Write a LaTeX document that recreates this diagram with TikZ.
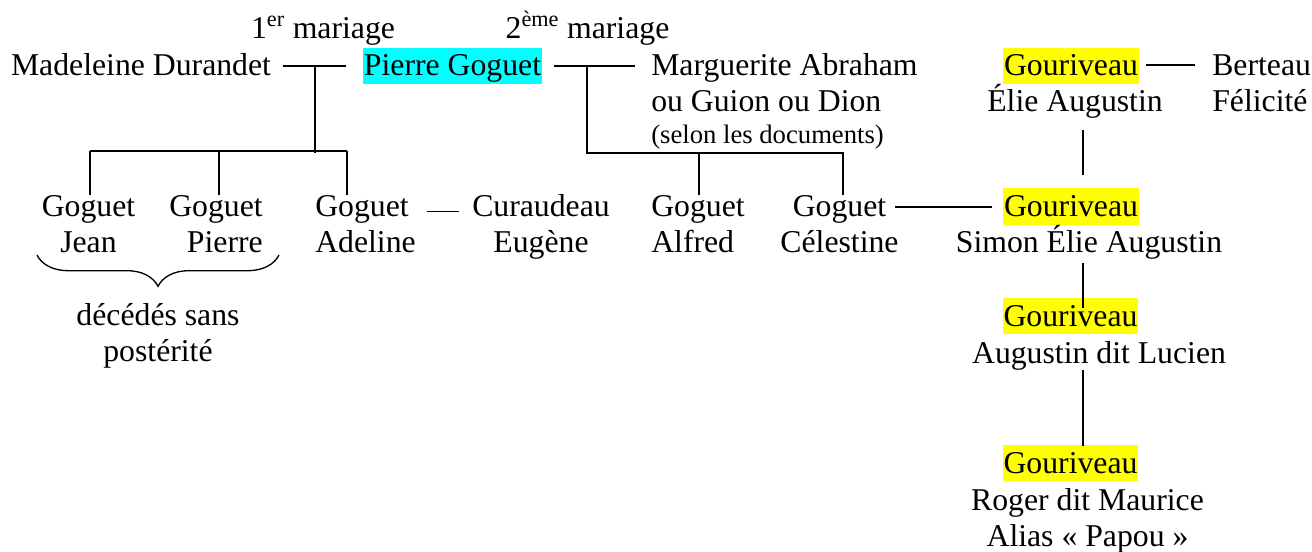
\documentclass[tikz,border=0pt]{standalone}
\usepackage{fontspec}
\setmainfont{Liberation Serif}
\usetikzlibrary{calc,decorations.pathreplacing}

\definecolor{cyanvif}{RGB}{0,255,255}
\definecolor{jaunevif}{RGB}{255,255,0}

\tikzset{
  txt/.style={font=\fontsize{23.8}{27}\selectfont, inner sep=0pt, anchor=base},
  surligne/.style={txt, fill=#1, inner xsep=0.7pt, text height=21.2pt, text depth=6.1pt},
  trait/.style={line width=1.4pt},
}

\begin{document}
\begin{tikzpicture}[x=0.75pt,y=0.75pt,yscale=-1]
    \useasboundingbox (0,0) rectangle (1312,552);

    % Text Node : mariages
    \node[txt] (m1) at (323,39) {1\textsuperscript{er} mariage};
    \node[txt] (m2) at (587.5,39) {2\textsuperscript{ème} mariage};

    % Text Node : parents (multi-line nodes sit on their last baseline)
    \node[txt] (mad) at (141,76) {Madeleine Durandet};
    \node[surligne=cyanvif] (pierre) at (452.5,76) {Pierre Goguet};
    \node[txt, anchor=base west, align=left] (marg) at (651,111.7) {Marguerite Abraham\\ou Guion ou Dion};
    \node[txt, anchor=base west, font=\fontsize{20}{23}\selectfont] (selon) at (651,143.3) {(selon les documents)};
    \node[surligne=jaunevif] (g1) at (1071,76) {Gouriveau};
    \node[txt] (elie) at (1075,111.7) {Élie Augustin};
    \node[txt, anchor=base west, align=left] (bert) at (1212,111.7) {Berteau\\Félicité};

    % Text Node : enfants
    \node[txt, align=center] (jean) at (88.5,252.5) {Goguet\\Jean};
    \node[txt, anchor=base east, align=right] (pj) at (263,252.5) {Goguet\\Pierre};
    \node[txt, anchor=base west, align=left] (adel) at (315,252.5) {Goguet\\Adeline};
    \node[txt, align=center] (cur) at (541,252.5) {Curaudeau\\Eugène};
    \node[txt, anchor=base west, align=left] (alf) at (651,252.5) {Goguet\\Alfred};
    \node[txt, align=center] (cel) at (839.5,252.5) {Goguet\\Célestine};
    \node[surligne=jaunevif] (g2) at (1071,216.5) {Gouriveau};
    \node[txt] (simon) at (1089,252.6) {Simon Élie Augustin};
    \node[txt, align=center] (deced) at (158,361) {décédés sans\\postérité};

    % Text Node : descendance Gouriveau
    \node[surligne=jaunevif] (g3) at (1070.5,326) {Gouriveau};
    \node[txt] (aug) at (1099,363) {Augustin dit Lucien};
    \node[surligne=jaunevif] (g4) at (1070.5,473) {Gouriveau};
    \node[txt, align=center] (roger) at (1087.5,546) {Roger dit Maurice\\Alias « Papou »};

    % Traits de mariage
    \draw[trait] ($(mad.base east)+(11.7,-10.3)$) -- ($(pierre.base west)+(-16.3,-10.3)$);
    \draw[trait] ($(pierre.base east)+(12,-10.3)$) -- ($(marg.west |- pierre.base)+(-16,-10.3)$);
    \draw[trait] ($(g1.base east)+(7,-11)$) -- ($(bert.west |- g1.base)+(-17,-11)$);
    \draw[trait] ($(adel.base east)+(11,-41)$) -- ($(cur.base west)+(-12.8,-41)$);
    \draw[trait] ($(cel.east |- g2.base)+(-3.7,-9.8)$) -- ($(g2.base west)+(-11.3,-9.8)$);

    % 1er lit
    \coordinate (u1) at (315,65.7);
    \draw[trait] (u1) -- (315,152.7);
    \draw[trait] (90,151) -- (346.7,151);
    \foreach \x/\e in {90/jean,219/pj,346.7/adel}
        \draw[trait] (\x,151) -- (\x,151 |- \e.north);

    % 2e lit
    \coordinate (u2) at (586.7,65.7);
    \draw[trait] (u2) |- (842.7,153.3) -- (842.7,153.3 |- cel.north);
    \draw[trait] (699,153.3) -- (699,153.3 |- alf.north);

    % Lignee Gouriveau
    \draw[trait] ($(1083,0 |- elie.south)+(0,11.4)$) -- ($(1083,0 |- g2.north)+(0,-13.2)$);
    \draw[trait] ($(1083,0 |- simon.south)+(0,3.5)$) -- ($(1083,0 |- g3.north)+(0,10.3)$);
    \draw[trait] ($(1083,0 |- aug.south)+(0,0)$) -- ($(1083,0 |- g4.north)+(0,2)$);

    % Accolade
    \coordinate (acc1) at (37,255);
    \coordinate (acc2) at (279,255);
    \draw[line width=1pt, decorate, decoration={brace, mirror, amplitude=23.5pt}] (acc1) -- (acc2);

\end{tikzpicture}
\end{document}
